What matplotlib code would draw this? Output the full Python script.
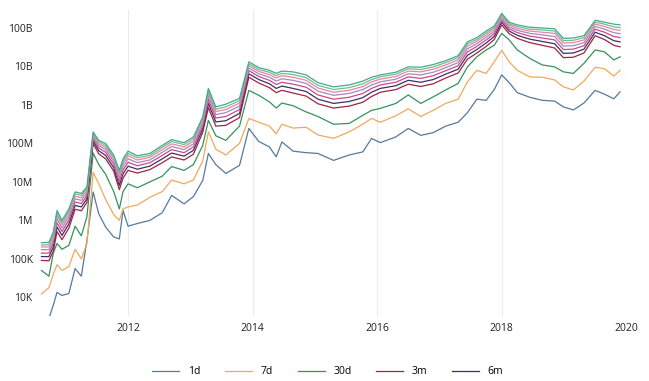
import matplotlib
matplotlib.use('Agg')
import numpy as np
import matplotlib.pyplot as plt
from matplotlib.ticker import FixedLocator, NullLocator

plt.rcParams['font.family'] = ['Open Sans', 'DejaVu Sans']

# decimal years of the sampled points
years = [2010.61, 2010.73, 2010.80, 2010.86, 2010.94, 2011.05, 2011.15, 2011.25, 2011.34, 2011.44,
         2011.53, 2011.64, 2011.77, 2011.86, 2011.92, 2012.0, 2012.15, 2012.35, 2012.55, 2012.7,
         2012.9, 2013.05, 2013.2, 2013.29, 2013.41, 2013.57, 2013.79, 2013.94, 2014.1, 2014.27,
         2014.38, 2014.47, 2014.65, 2014.86, 2015.05, 2015.3, 2015.55, 2015.77, 2015.91, 2016.05,
         2016.3, 2016.5, 2016.7, 2016.9, 2017.1, 2017.3, 2017.45, 2017.6, 2017.75, 2017.88,
         2018.0, 2018.12, 2018.25, 2018.45, 2018.65, 2018.85, 2018.99, 2019.15, 2019.32, 2019.5,
         2019.65, 2019.8, 2019.9]

# values, as log10
lg_1d = [3.30, 3.45, 3.80, 4.13, 4.05, 4.10, 4.75, 4.55, 5.48, 6.74,
         6.17, 5.83, 5.57, 5.52, 6.26, 5.85, 5.92, 6.00, 6.20, 6.65,
         6.43, 6.62, 7.04, 7.74, 7.45, 7.22, 7.43, 8.39, 8.05, 7.91,
         7.65, 8.04, 7.80, 7.76, 7.74, 7.56, 7.70, 7.78, 8.13, 8.02,
         8.17, 8.39, 8.21, 8.28, 8.45, 8.55, 8.80, 9.15, 9.12, 9.40,
         9.78, 9.58, 9.32, 9.20, 9.12, 9.10, 8.95, 8.87, 9.05, 9.38,
         9.28, 9.16, 9.34]
lg_7d = [4.09, 4.25, 4.60, 4.85, 4.70, 4.80, 5.25, 5.00, 5.40, 7.25,
         6.95, 6.55, 6.15, 6.00, 6.30, 6.35, 6.40, 6.60, 6.75, 7.05,
         6.95, 7.05, 7.55, 8.30, 7.85, 7.70, 8.00, 8.65, 8.55, 8.45,
         8.25, 8.50, 8.40, 8.42, 8.22, 8.13, 8.30, 8.50, 8.65, 8.55,
         8.72, 8.90, 8.70, 8.86, 9.04, 9.15, 9.60, 9.90, 9.82, 10.12,
         10.42, 10.12, 9.90, 9.73, 9.72, 9.65, 9.47, 9.39, 9.62, 9.98,
         9.94, 9.75, 9.90]
lg_30d = [4.70, 4.55, 5.15, 5.40, 5.25, 5.35, 5.85, 5.60, 6.10, 7.75,
          7.45, 7.20, 6.75, 6.30, 6.75, 6.95, 6.85, 7.00, 7.15, 7.40,
          7.30, 7.45, 7.95, 8.60, 8.20, 8.08, 8.45, 9.38, 9.25, 9.08,
          8.92, 9.05, 8.98, 8.82, 8.70, 8.50, 8.52, 8.73, 8.86, 8.91,
          9.04, 9.26, 9.04, 9.21, 9.39, 9.56, 9.99, 10.25, 10.43, 10.55,
          10.86, 10.69, 10.43, 10.21, 10.04, 9.99, 9.86, 9.82, 10.08, 10.43,
          10.38, 10.17, 10.25]
lg_3m = [4.96, 4.95, 5.20, 5.71, 5.50, 5.80, 6.29, 6.25, 6.47, 8.00,
         7.73, 7.60, 7.28, 6.80, 7.10, 7.30, 7.23, 7.32, 7.50, 7.65,
         7.57, 7.72, 8.29, 8.93, 8.45, 8.47, 8.67, 9.72, 9.57, 9.45,
         9.32, 9.38, 9.31, 9.23, 9.03, 8.92, 8.97, 9.07, 9.22, 9.33,
         9.40, 9.54, 9.48, 9.55, 9.70, 9.83, 10.19, 10.35, 10.52, 10.70,
         11.08, 10.85, 10.73, 10.62, 10.55, 10.48, 10.23, 10.24, 10.35, 10.80,
         10.70, 10.55, 10.51]
lg_6m = [5.06, 5.06, 5.31, 5.83, 5.61, 5.91, 6.39, 6.35, 6.56, 8.07,
         7.81, 7.69, 7.37, 6.91, 7.21, 7.41, 7.33, 7.41, 7.60, 7.75,
         7.67, 7.82, 8.38, 9.04, 8.56, 8.59, 8.78, 9.81, 9.66, 9.55,
         9.43, 9.49, 9.43, 9.35, 9.15, 9.04, 9.09, 9.19, 9.33, 9.43,
         9.50, 9.64, 9.59, 9.66, 9.80, 9.93, 10.29, 10.44, 10.61, 10.78,
         11.15, 10.92, 10.81, 10.71, 10.65, 10.59, 10.34, 10.35, 10.45, 10.89,
         10.80, 10.67, 10.64]
lg_12m = [5.15, 5.15, 5.41, 5.94, 5.71, 6.01, 6.48, 6.44, 6.64, 8.13,
          7.88, 7.77, 7.46, 7.01, 7.31, 7.51, 7.42, 7.50, 7.69, 7.84,
          7.76, 7.91, 8.46, 9.14, 8.66, 8.70, 8.88, 9.89, 9.74, 9.64,
          9.53, 9.59, 9.54, 9.46, 9.26, 9.15, 9.20, 9.30, 9.43, 9.52,
          9.59, 9.73, 9.69, 9.76, 9.89, 10.02, 10.38, 10.52, 10.69, 10.85,
          11.21, 10.98, 10.88, 10.79, 10.74, 10.69, 10.44, 10.45, 10.54, 10.97,
          10.89, 10.78, 10.75]
lg_18m = [5.24, 5.24, 5.50, 6.04, 5.80, 6.10, 6.56, 6.52, 6.71, 8.18,
          7.94, 7.84, 7.53, 7.10, 7.40, 7.60, 7.50, 7.57, 7.77, 7.92,
          7.84, 7.99, 8.53, 9.23, 8.75, 8.80, 8.97, 9.96, 9.81, 9.72,
          9.62, 9.68, 9.64, 9.56, 9.36, 9.25, 9.30, 9.40, 9.52, 9.60,
          9.67, 9.81, 9.78, 9.85, 9.97, 10.10, 10.46, 10.59, 10.76, 10.91,
          11.26, 11.03, 10.94, 10.86, 10.82, 10.78, 10.53, 10.54, 10.62, 11.04,
          10.97, 10.88, 10.85]
lg_2y = [5.31, 5.31, 5.58, 6.12, 5.88, 6.18, 6.63, 6.59, 6.77, 8.23,
         7.99, 7.90, 7.60, 7.18, 7.48, 7.68, 7.57, 7.64, 7.84, 7.99,
         7.91, 8.06, 8.59, 9.31, 8.83, 8.88, 9.05, 10.02, 9.87, 9.79,
         9.70, 9.76, 9.72, 9.64, 9.44, 9.33, 9.38, 9.48, 9.60, 9.67,
         9.74, 9.88, 9.86, 9.93, 10.04, 10.17, 10.53, 10.65, 10.82, 10.96,
         11.31, 11.08, 10.99, 10.92, 10.89, 10.86, 10.61, 10.62, 10.69, 11.10,
         11.04, 10.96, 10.94]
lg_3y = [5.36, 5.37, 5.64, 6.19, 5.94, 6.24, 6.69, 6.65, 6.82, 8.26,
         8.04, 7.95, 7.65, 7.24, 7.54, 7.74, 7.63, 7.69, 7.90, 8.05,
         7.97, 8.12, 8.64, 9.37, 8.89, 8.95, 9.11, 10.07, 9.92, 9.85,
         9.76, 9.82, 9.79, 9.71, 9.51, 9.40, 9.45, 9.55, 9.66, 9.73,
         9.80, 9.94, 9.92, 9.99, 10.10, 10.23, 10.59, 10.70, 10.87, 11.01,
         11.34, 11.11, 11.04, 10.97, 10.95, 10.92, 10.67, 10.68, 10.75, 11.15,
         11.10, 11.03, 11.01]
lg_5y = [5.42, 5.43, 5.70, 6.26, 6.00, 6.30, 6.74, 6.70, 6.87, 8.30,
         8.08, 8.00, 7.70, 7.30, 7.60, 7.80, 7.68, 7.74, 7.95, 8.10,
         8.02, 8.17, 8.69, 9.43, 8.95, 9.02, 9.17, 10.12, 9.97, 9.90,
         9.82, 9.88, 9.86, 9.78, 9.58, 9.47, 9.52, 9.62, 9.72, 9.78,
         9.85, 9.99, 9.98, 10.05, 10.15, 10.28, 10.64, 10.75, 10.92, 11.05,
         11.38, 11.15, 11.08, 11.02, 11.00, 10.98, 10.73, 10.74, 10.80, 11.20,
         11.15, 11.10, 11.08]

names = ['1d', '7d', '30d', '3m', '6m', '12m', '18m', '2y', '3y', '5y']
series = [lg_1d, lg_7d, lg_30d, lg_3m, lg_6m, lg_12m, lg_18m, lg_2y, lg_3y, lg_5y]
colors = ['#557a9c', '#eeaa5c', '#36925a', '#a02540', '#3f2f6c',
          '#cf4a80', '#a487c4', '#e983a6', '#78bd7e', '#41a89a']
shown = ['1d', '7d', '30d', '3m', '6m']

y_ticks = [1e4, 1e5, 1e6, 1e7, 1e8, 1e9, 1e10, 1e11]
y_labels = ['10K', '100K', '1M', '10M', '100M', '1B', '10B', '100B']
x_ticks = [2012, 2014, 2016, 2018, 2020]

fig = plt.figure(figsize=(6.49, 3.81), dpi=100)
ax = fig.add_axes([0.061, 0.171, 0.904, 0.803])

x = np.array(years)
for name, lg, c in zip(names, series, colors):
    lab = name if name in shown else '_nolegend_'
    ax.plot(x, 10 ** np.array(lg), color=c, lw=0.9, label=lab)

ax.set_yscale('log')
ax.set_xlim(2010.58, 2020.0)
ax.set_ylim(10 ** 3.52, 10 ** 11.47)
ax.yaxis.set_major_locator(FixedLocator(y_ticks))
ax.yaxis.set_minor_locator(NullLocator())
ax.set_yticklabels(y_labels)
ax.set_xticks(x_ticks)
ax.set_xticklabels([str(v) for v in x_ticks])
ax.tick_params(axis='both', length=0, labelsize=7.5, colors='#222222')
ax.tick_params(axis='y', pad=5)
ax.tick_params(axis='x', pad=5)
for s in ax.spines.values():
    s.set_visible(False)
ax.grid(axis='x', color='#ebebeb', lw=0.8)
ax.set_axisbelow(True)

fig.legend(loc='center', bbox_to_anchor=(0.505, 1 - 372 / 381), ncol=5, frameon=False,
           fontsize=7.5, handlelength=2.6, handletextpad=0.8, columnspacing=2.4)

plt.savefig('out.png', dpi=100)
